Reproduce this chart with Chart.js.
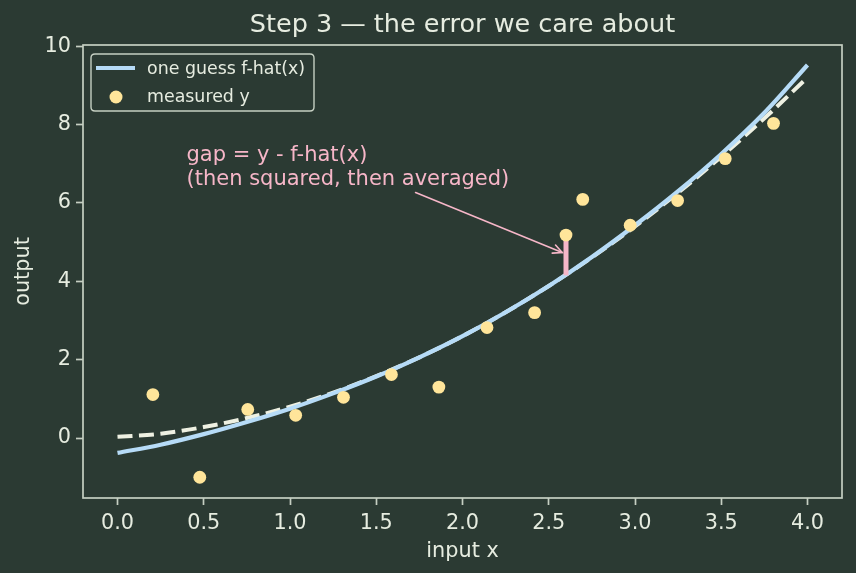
<!DOCTYPE html>
<html><head><meta charset="utf-8">
<script src="https://cdn.jsdelivr.net/npm/chart.js@4.4.1/dist/chart.umd.min.js"></script>
<style>html,body{margin:0;padding:0;background:#2b3a33;overflow:hidden}</style>
</head><body>
<canvas id="c" width="856" height="573"></canvas>
<script>
// ---- data ----
const curveX = [0,0.25,0.5,0.75,1,1.25,1.5,1.75,2,2.25,2.5,2.75,3,3.25,3.5,3.75,4];
const trueY  = [0.03,0.11,0.28,0.51,0.80,1.16,1.58,2.06,2.60,3.21,3.88,4.61,5.40,6.26,7.18,8.16,9.20];
const guessY = [-0.38,-0.17,0.10,0.41,0.75,1.14,1.57,2.06,2.60,3.21,3.88,4.62,5.43,6.30,7.25,8.30,9.52];
const pointX = [0.205,0.477,0.755,1.033,1.31,1.588,1.863,2.142,2.418,2.6,2.697,2.972,3.247,3.523,3.803];
const pointY = [1.11,-1.00,0.73,0.58,1.04,1.62,1.30,2.82,3.20,5.18,6.09,5.43,6.06,7.13,8.03];
const gapX = [2.6, 2.6];
const gapY = [4.15, 5.18];
const xTicks = [0,0.5,1,1.5,2,2.5,3,3.5,4];
const yTicks = [0,2,4,6,8,10];
const titleText = "Step 3 \u2014 the error we care about";
const xLabel = "input x", yLabel = "output";
const noteLines = ["gap = y - f-hat(x)", "(then squared, then averaged)"];

// ---- styles ----
const BG = "#2b3a33", FG = "#e6ece0", SPINE = "#c5cfc2";
const BLUE = "#b6dbf7", YEL = "#ffe59a", DASH = "#eef0e2", PINK = "#f6b6c8";
const FONT = '"DejaVu Sans", sans-serif';

const zip = (xs, ys) => xs.map((x, i) => ({x, y: ys[i]}));

const deco = {
  id: 'deco',
  beforeDraw(chart) {
    const c = chart.ctx;
    c.save(); c.fillStyle = BG; c.fillRect(0, 0, chart.width, chart.height); c.restore();
  },
  afterDatasetsDraw(chart) {
    const c = chart.ctx, a = chart.chartArea, xs = chart.scales.x, ys = chart.scales.y;
    c.save();
    // annotation text
    c.fillStyle = PINK; c.font = '21px ' + FONT; c.textAlign = 'left'; c.textBaseline = 'alphabetic';
    const tx = xs.getPixelForValue(0.40), ty = ys.getPixelForValue(6.45);
    c.fillText(noteLines[0], tx, ty - 24);
    c.fillText(noteLines[1], tx, ty);
    // arrow
    const x0 = xs.getPixelForValue(1.728), y0 = ys.getPixelForValue(6.265);
    const x1 = xs.getPixelForValue(2.578), y1 = ys.getPixelForValue(4.735);
    c.strokeStyle = PINK; c.lineWidth = 1.6; c.lineCap = 'round';
    c.beginPath(); c.moveTo(x0, y0); c.lineTo(x1, y1); c.stroke();
    const ang = Math.atan2(y1 - y0, x1 - x0), L = 10, W = 0.45;
    c.beginPath();
    c.moveTo(x1 - L * Math.cos(ang - W), y1 - L * Math.sin(ang - W));
    c.lineTo(x1, y1);
    c.lineTo(x1 - L * Math.cos(ang + W), y1 - L * Math.sin(ang + W));
    c.stroke();
    // frame
    c.strokeStyle = SPINE; c.lineWidth = 1.7;
    c.strokeRect(a.left, a.top, a.right - a.left, a.bottom - a.top);
    // title and axis labels
    c.fillStyle = FG; c.textAlign = 'center';
    c.font = '25.5px ' + FONT; c.textBaseline = 'alphabetic';
    c.fillText(titleText, (a.left + a.right) / 2, 32);
    c.font = '20.8px ' + FONT;
    c.fillText(xLabel, (a.left + a.right) / 2, 557);
    c.save(); c.translate(24, (a.top + a.bottom) / 2); c.rotate(-Math.PI / 2);
    c.textBaseline = 'middle'; c.fillText(yLabel, 0, 0); c.restore();
    // legend
    const ds = chart.data.datasets;
    const lx = 91, ly = 54, lw = 223, lh = 57, r = 4;
    c.beginPath();
    c.moveTo(lx + r, ly); c.lineTo(lx + lw - r, ly); c.quadraticCurveTo(lx + lw, ly, lx + lw, ly + r);
    c.lineTo(lx + lw, ly + lh - r); c.quadraticCurveTo(lx + lw, ly + lh, lx + lw - r, ly + lh);
    c.lineTo(lx + r, ly + lh); c.quadraticCurveTo(lx, ly + lh, lx, ly + lh - r);
    c.lineTo(lx, ly + r); c.quadraticCurveTo(lx, ly, lx + r, ly); c.closePath();
    c.fillStyle = BG; c.fill(); c.strokeStyle = SPINE; c.lineWidth = 1.4; c.stroke();
    c.strokeStyle = ds[1].borderColor; c.lineWidth = ds[1].borderWidth; c.lineCap = 'butt';
    c.beginPath(); c.moveTo(96, 68); c.lineTo(135, 68); c.stroke();
    c.fillStyle = ds[3].backgroundColor; c.beginPath(); c.arc(116, 97, 6.5, 0, Math.PI * 2); c.fill();
    c.fillStyle = FG; c.font = '17.4px ' + FONT; c.textAlign = 'left'; c.textBaseline = 'middle';
    c.fillText(ds[1].label, 147, 69);
    c.fillText(ds[3].label, 147, 97);
    c.restore();
  }
};

const tickFont = {family: FONT, size: 20.8};
new Chart(document.getElementById('c'), {
  type: 'scatter',
  data: {
    datasets: [
      {type: 'line', label: 'true', data: zip(curveX, trueY), borderColor: DASH, borderWidth: 4,
       borderDash: [15, 6.5], pointRadius: 0, cubicInterpolationMode: 'monotone', fill: false, order: 4},
      {type: 'line', label: 'one guess f-hat(x)', data: zip(curveX, guessY), borderColor: BLUE, borderWidth: 4.2,
       pointRadius: 0, cubicInterpolationMode: 'monotone', fill: false, order: 3},
      {type: 'line', label: 'gap', data: zip(gapX, gapY), borderColor: PINK, borderWidth: 5,
       pointRadius: 0, fill: false, order: 2},
      {type: 'scatter', label: 'measured y', data: zip(pointX, pointY), backgroundColor: YEL,
       borderWidth: 0, pointRadius: 6.4, order: 1}
    ]
  },
  options: {
    responsive: false, animation: false, devicePixelRatio: 1,
    layout: {padding: {left: 0, right: 14, top: 45, bottom: 0}},
    plugins: {legend: {display: false}, title: {display: false}, tooltip: {enabled: false}},
    scales: {
      x: {type: 'linear', min: -0.2, max: 4.2,
          afterBuildTicks: s => { s.ticks = xTicks.map(v => ({value: v})); },
          afterFit: s => { s.height = 75; },
          ticks: {color: FG, font: tickFont, padding: 6, maxRotation: 0,
                  callback: v => Number(v).toFixed(1)},
          grid: {drawOnChartArea: false, drawTicks: true, tickLength: 7, tickWidth: 1.7, tickColor: SPINE, color: SPINE},
          border: {display: false}},
      y: {type: 'linear', min: -1.53, max: 10.03,
          afterBuildTicks: s => { s.ticks = yTicks.map(v => ({value: v})); },
          afterFit: s => { s.width = 83; },
          ticks: {color: FG, font: tickFont, padding: 5, callback: v => String(v)},
          grid: {drawOnChartArea: false, drawTicks: true, tickLength: 7, tickWidth: 1.7, tickColor: SPINE, color: SPINE},
          border: {display: false}}
    }
  },
  plugins: [deco]
});
</script>
</body></html>
